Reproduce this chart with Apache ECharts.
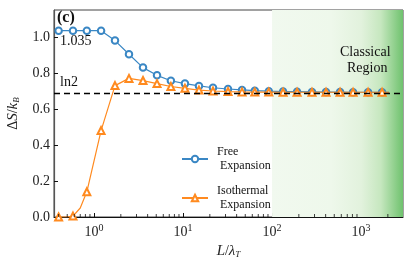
<!DOCTYPE html>
<html><head><meta charset="utf-8">
<script src="https://cdn.jsdelivr.net/npm/echarts@6/dist/echarts.min.js"></script>
<style>html,body{margin:0;padding:0;background:#fff}#c{width:415px;height:259px}</style>
</head><body><div id="c"></div>
<script>
// ---- data ----
var lengthRatio = [0.40,0.58,0.83,1.2,1.72,2.47,3.55,5.1,7.3,10.5,15.1,21.7,32,46,64,92,133,191,281,404,581,813,1199,1722,2065];
var freeExpansion = [1.035,1.035,1.035,1.035,0.98,0.904,0.83,0.787,0.757,0.741,0.728,0.718,0.711,0.706,0.702,0.699,0.697,0.696,0.695,0.694,0.694,0.693,0.693,0.693,0.693];
var isothermalExpansion = [0.0,0.005,0.14,0.48,0.73,0.77,0.758,0.741,0.725,0.715,0.705,0.70,0.697,0.695,0.694,0.694,0.693,0.693,0.693,0.693,0.693,0.693,0.693,0.693,0.693];
// unmarked intermediate points of the isothermal curve
var isoExtraL = [0.49, 0.70];
var isoExtraVals = [0.0, 0.05];
var xMin = 0.355, xMax = 2960;
var yMin = 0, yMax = 1.15;
var classicalStart = 100;
var ln2 = 0.693;
var yTicks = [0.0, 0.2, 0.4, 0.6, 0.8, 1.0];

var serif = '"Liberation Serif","DejaVu Serif",serif';
var lastIdx = lengthRatio.length - 1;
function mk(xs, ys) {
  return xs.map(function (x, i) {
    var d = {value: [x, ys[i]]};
    if (i === lastIdx) d.symbol = 'none';
    return d;
  });
}
var freeData = mk(lengthRatio, freeExpansion);
var isoPts = mk(lengthRatio, isothermalExpansion);
isoExtraL.forEach(function (x, i) { isoPts.push({value: [x, isoExtraVals[i]], symbol: 'none'}); });
isoPts.sort(function (a, b) { return a.value[0] - b.value[0]; });

// minor ticks for the log axis (2..9 per decade)
var minor = [];
for (var d = -1; d <= 3; d++) for (var k = 2; k <= 9; k++) {
  var v = k * Math.pow(10, d);
  if (v > xMin && v < xMax) minor.push([v, 0]);
}

var chart = echarts.init(document.getElementById('c'), null, {renderer: 'canvas'});
chart.setOption({
  animation: false,
  grid: {left: 54, right: 12, top: 10, bottom: 42, outerBoundsMode: 'none', containLabel: false,
    show: true, borderColor: '#444', borderWidth: 1, backgroundColor: 'transparent'},
  legend: {
    orient: 'vertical', left: 176, top: 140, itemGap: 11, itemWidth: 26, itemHeight: 8,
    data: ['Free\n Expansion', 'Isothermal\n Expansion'],
    textStyle: {fontFamily: serif, fontSize: 12, color: '#111', lineHeight: 14, padding: [0, 0, 0, 4]}
  },
  xAxis: {
    type: 'log', logBase: 10, min: xMin, max: xMax,
    name: '{i|L}/{i|λ}{s|T}', nameLocation: 'middle', nameGap: 27,
    nameTextStyle: {fontFamily: serif, fontSize: 14, color: '#222', rich: {i: {fontStyle: 'italic', fontFamily: serif, fontSize: 15}, s: {fontStyle: 'italic', fontFamily: serif, fontSize: 9, verticalAlign: 'bottom', padding: [6, 0, 0, 0]}}},
    axisLine: {lineStyle: {color: '#111', width: 1}},
    axisTick: {inside: true, length: 4, lineStyle: {color: '#111'}},
    splitLine: {show: false},
    axisLabel: {
      margin: 6, showMinLabel: false, showMaxLabel: false,
      formatter: function (v) {
        var e = Math.log10(v);
        if (Math.abs(e - Math.round(e)) > 1e-6) return '';
        return '{b|10}{p|' + Math.round(e) + '}';
      },
      rich: {b: {fontFamily: serif, fontSize: 14, color: '#222'}, p: {fontFamily: serif, fontSize: 10, color: '#222', verticalAlign: 'top', padding: [0, 0, 8, 0]}}
    }
  },
  yAxis: {
    type: 'value', min: yMin, max: yMax, interval: 0.2,
    name: 'Δ{i|S}/{i|k}{s|B}', nameLocation: 'middle', nameGap: 33, nameRotate: 90,
    nameTextStyle: {fontFamily: serif, fontSize: 14, color: '#222', rich: {i: {fontStyle: 'italic', fontFamily: serif, fontSize: 15}, s: {fontStyle: 'italic', fontFamily: serif, fontSize: 9, padding: [6, 0, 0, 0]}}},
    axisLine: {show: true, lineStyle: {color: '#555', width: 1.2}},
    axisTick: {inside: true, length: 4, lineStyle: {color: '#111'}},
    splitLine: {show: false},
    axisLabel: {fontFamily: serif, fontSize: 14, color: '#222', margin: 4, showMaxLabel: false,
      formatter: function (v) { return yTicks.indexOf(Math.round(v * 10) / 10) >= 0 && Math.abs(v * 5 - Math.round(v * 5)) < 1e-6 ? v.toFixed(1) : ''; }}
  },
  series: [
    {
      name: 'bg', type: 'line', data: [], silent: true, z: 0,
      markArea: {silent: true, itemStyle: {color: new echarts.graphic.LinearGradient(0, 0, 1, 0, [
        {offset: 0, color: '#f1f9ef'}, {offset: 0.45, color: '#eef8eb'}, {offset: 0.68, color: '#e2f2dd'},
        {offset: 0.83, color: '#c6e7bf'}, {offset: 1, color: '#6fc26e'}])},
        data: [[{xAxis: classicalStart}, {xAxis: xMax}]]},
      markLine: {silent: true, symbol: 'none', label: {show: false},
        lineStyle: {color: '#000', type: [6, 4], width: 1.3}, data: [{yAxis: ln2}]}
    },
    {
      name: 'Free\n Expansion', type: 'line', data: freeData, z: 3,
      symbol: 'emptyCircle', symbolSize: 6.5, showAllSymbol: true,
      itemStyle: {color: '#3a87c4', borderWidth: 1.1},
      lineStyle: {color: '#3a87c4', width: 1.2}
    },
    {
      name: 'Isothermal\n Expansion', type: 'line', data: isoPts, z: 4,
      symbol: 'emptyTriangle', symbolSize: 7, showAllSymbol: true,
      itemStyle: {color: '#ff8a1f', borderWidth: 1.1},
      lineStyle: {color: '#ff8a1f', width: 1.2}
    },
    {
      name: 'minor', type: 'scatter', data: minor, silent: true, clip: false, z: 5,
      symbol: 'rect', symbolSize: [1, 3], symbolOffset: [0, -1.5], itemStyle: {color: '#111'}
    }
  ],
  graphic: [
    {type: 'text', z: 100, left: 57, top: 10, style: {text: '(c)', font: 'bold 16px ' + serif, fill: '#111'}},
    {type: 'text', z: 100, left: 60, top: 34, style: {text: '1.035', font: '14px ' + serif, fill: '#111'}},
    {type: 'text', z: 100, left: 60, top: 75, style: {text: 'ln2', font: '14px ' + serif, fill: '#111'}},
    {type: 'text', z: 100, left: 340, top: 44, style: {text: 'Classical\n  Region', font: '14px ' + serif, fill: '#111', lineHeight: 16}}
  ]
});
</script></body></html>
